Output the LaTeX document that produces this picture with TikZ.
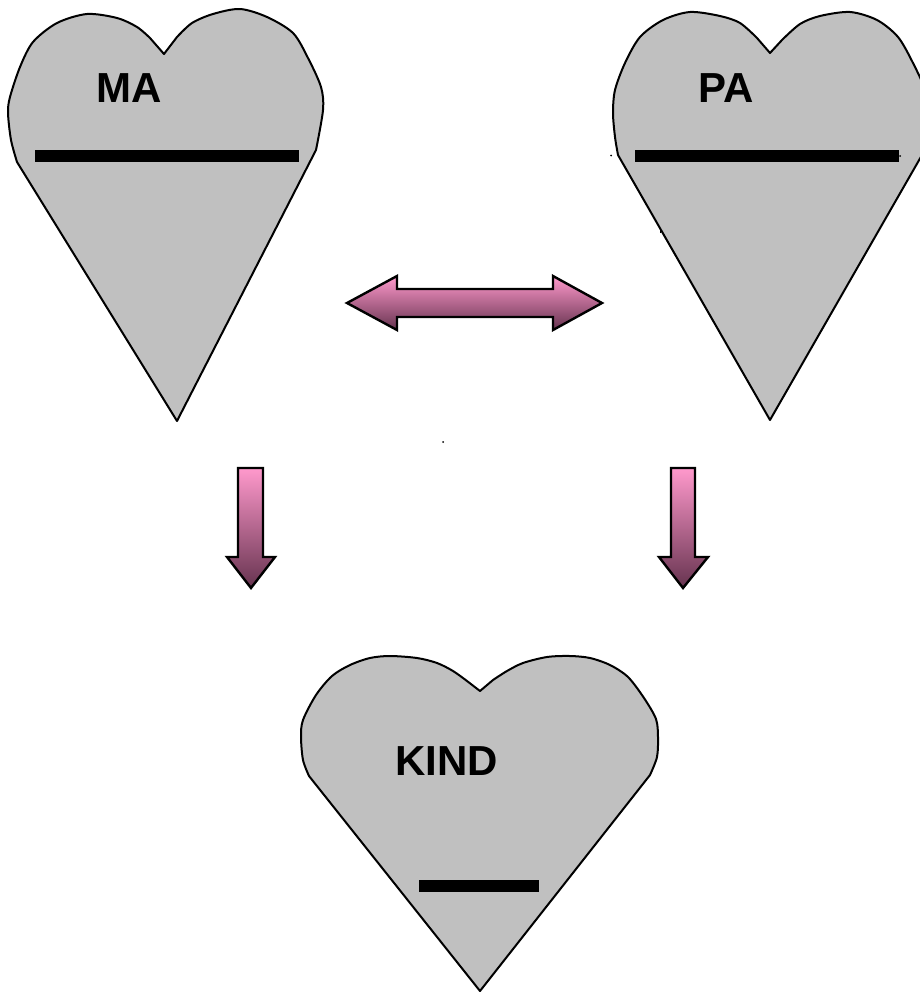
\documentclass[tikz,border=0pt]{standalone}
\usepackage{fontspec}
\setmainfont{Liberation Sans}
\definecolor{heartgray}{HTML}{C0C0C0}
\definecolor{arrowtop}{HTML}{FF99CC}
\definecolor{arrowbottom}{HTML}{66334F}
\tikzset{
    heart/.style={draw=black, line width=1.5pt, line join=round, fill=heartgray},
    bar/.style={fill=black},
    blockarrow/.style={draw=black, line width=1.8pt, line join=miter, top color=arrowtop, bottom color=arrowbottom},
    heartlabel/.style={inner sep=0pt, font=\fontsize{31.5}{38}\selectfont\bfseries},
    speck/.style={fill=black}
}
\begin{document}
\begin{tikzpicture}[x=0.75pt, y=-0.75pt]
        \clip (0,0) rectangle (920,992);
        \fill[white] (0,0) rectangle (920,992);
        \coordinate (manotch) at (164,54);
        \coordinate (matip) at (177,421);
        \coordinate (panotch) at (770,53);
        \coordinate (patip) at (770,420);
        \coordinate (kindnotch) at (480,691);
        \coordinate (kindtip) at (480,991);
        \draw[heart] (manotch) -- plot[smooth, tension=0.5] coordinates {(150,38) (137,27) (117,18) (87,14) (57,23) (33,42) (20,67) (10,97) (8,113) (11,140) (17,162)}
            -- (matip)
            -- plot[smooth, tension=0.5] coordinates {(316,150) (323,110) (321,87) (308,58) (293,33) (267,17) (240,9) (213,14) (192,23) (177,37)} -- cycle;
        \draw[heart] (panotch) -- plot[smooth, tension=0.5] coordinates {(757,38) (740,23) (720,16) (690,12) (663,20) (640,37) (625,63) (615,90) (613,113) (615,137) (618,155)}
            -- (patip)
            -- plot[smooth, tension=0.5] coordinates {(922,155) (925,137) (927,113) (925,90) (913,63) (898,37) (877,20) (850,12) (820,16) (800,24) (782,40)} -- cycle;
        \draw[heart] (kindnotch) -- plot[smooth, tension=0.5] coordinates {(467,681) (453,671) (437,663) (417,658) (390,656) (370,658) (350,665) (332,676) (316,695) (303,720) (301,737) (303,760) (309,776)}
            -- (kindtip)
            -- plot[smooth, tension=0.5] coordinates {(650,775) (657,757) (658,737) (656,719) (644,698) (628,677) (610,665) (590,658) (570,656) (547,657) (523,663) (507,671) (493,680)} -- cycle;
        \fill[bar] (35,150) rectangle (299,162);
        \fill[bar] (635,150) rectangle (899,162);
        \fill[bar] (419,880) rectangle (539,892);
        \shade[blockarrow] (347,303)--(397,276)--(397,289)--(553,289)--(553,276)--(602,303)--(553,330)--(553,317)--(397,317)--(397,330)--cycle;
        \shade[blockarrow] (238,468)--(263,468)--(263,557)--(275,557)--(251,588)--(227,557)--(238,557)--cycle;
        \shade[blockarrow] (671,468)--(695,468)--(695,557)--(708,557)--(683,588)--(659,557)--(671,557)--cycle;
        \fill[speck] (611,155.5) circle (1);
        \fill[speck] (443,442) circle (1);
        \fill[speck] (900,156) circle (1);
        \fill[speck] (660,228) rectangle (661,233);
        \node[heartlabel] (ma) at (129.5,88.5) {MA};
        \node[heartlabel] (pa) at (726,88.5) {PA};
        \node[heartlabel] (kind) at (446.5,761.5) {KIND};
    \end{tikzpicture}
\end{document}
